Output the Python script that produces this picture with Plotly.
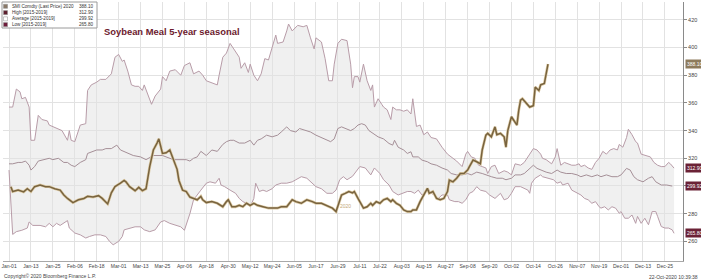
import pandas as pd
import plotly.graph_objects as go

# ---------------- data (day offset from 2020-01-01, value) ----------------
high_day = [0, 2, 4, 6, 7, 9, 11, 12, 14, 16,
            18, 21, 22, 26, 29, 32, 33, 34, 36, 39,
            42, 43, 45, 48, 50, 53, 56, 58, 60, 62,
            63, 65, 67, 69, 71, 73, 74, 78, 80, 83,
            84, 86, 88, 91, 94, 96, 99, 101, 104, 106,
            108, 110, 114, 115, 117, 119, 121, 123, 125, 126,
            127, 129, 131, 132, 134, 136, 138, 140, 142, 144,
            146, 147, 150, 152, 153, 155, 157, 158, 161, 163,
            165, 167, 168, 171, 173, 175, 177, 178, 180, 182,
            185, 187, 188, 189, 191, 192, 194, 196, 198, 199,
            200, 202, 204, 205, 207, 209, 210, 212, 214, 216,
            218, 220, 221, 223, 225, 227, 229, 231, 234, 237,
            240, 242, 245, 248, 250, 251, 253, 255, 257, 259,
            261, 262, 264, 266, 268, 271, 273, 275, 277, 280,
            282, 285, 287, 289, 291, 292, 294, 297, 299, 300,
            301, 302, 304, 306, 308, 310, 312, 313, 315, 317,
            319, 321, 323, 325, 327, 329, 331, 333, 334, 336,
            338, 339, 341, 343, 344, 346, 348, 351, 353, 355,
            357, 359, 361, 362, 364]
high_val = [357, 357, 370, 368, 363, 364, 357, 333, 333, 351,
            348, 347, 344, 342, 340, 333, 340, 333, 332, 344,
            345, 369, 373, 375, 377, 377, 381, 393, 395, 390,
            391, 383, 373, 372, 372, 369, 373, 359, 365, 370,
            379, 376, 383, 384, 380, 387, 389, 381, 383, 380,
            376, 375, 373, 380, 393, 396, 403, 399, 395, 393,
            385, 389, 382, 388, 380, 376, 381, 392, 391, 400,
            409, 403, 404, 412, 417, 412, 415, 416, 415, 416,
            407, 399, 407, 404, 392, 376, 376, 388, 403, 406,
            405, 388, 371, 379, 379, 375, 388, 376, 369, 373,
            357, 363, 359, 357, 355, 348, 357, 355, 355, 354,
            355, 352, 363, 343, 344, 337, 339, 335, 334, 328,
            323, 321, 318, 314, 323, 325, 321, 320, 315, 314,
            313, 309, 314, 315, 309, 311, 310, 308, 316, 315,
            317, 323, 327, 326, 323, 320, 319, 316, 321, 327,
            321, 315, 317, 316, 315, 315, 316, 314, 315, 313,
            312, 317, 320, 325, 323, 326, 327, 326, 330, 328,
            335, 341, 337, 332, 331, 323, 322, 321, 317, 315,
            314, 314, 317, 316, 312.9]

avg_day = [0, 2, 5, 7, 9, 11, 12, 14, 16, 19,
           22, 24, 27, 30, 32, 34, 36, 39, 42, 43,
           45, 48, 51, 53, 56, 59, 61, 68, 72, 75,
           79, 84, 90, 97, 99, 101, 103, 105, 108, 111,
           114, 117, 119, 121, 123, 126, 129, 132, 134, 136,
           138, 141, 144, 147, 149, 152, 154, 157, 159, 162,
           165, 168, 170, 173, 176, 178, 180, 182, 184, 187,
           189, 191, 193, 195, 197, 199, 202, 205, 208, 210,
           211, 213, 216, 218, 220, 221, 224, 226, 229, 231,
           234, 237, 240, 242, 245, 248, 251, 253, 256, 259,
           261, 264, 267, 270, 272, 275, 277, 280, 282, 285,
           287, 289, 291, 294, 297, 300, 302, 305, 308, 311,
           313, 316, 319, 322, 324, 327, 330, 333, 335, 338,
           340, 342, 344, 347, 350, 352, 354, 357, 360, 363]
avg_val = [316, 316, 317, 317, 318, 315, 311.5, 314, 318, 319,
           320, 319, 320, 317, 317, 315, 314, 317, 319, 323.5,
           324.7, 326, 326, 327, 327, 329.5, 326, 322, 321, 319,
           322, 322, 319, 319, 318, 320, 321, 325, 322, 326,
           325, 330, 332, 333, 333, 331, 331, 333, 329.5, 333,
           334, 336.7, 335.5, 336.7, 339, 342.7, 340, 339, 341.5, 340,
           339, 336.7, 335.5, 334, 332, 334, 341.5, 342.7, 341.5, 340,
           341.5, 344, 345, 344, 340, 338, 335.5, 334, 330.7, 329.5,
           333, 328, 326, 323.5, 324.7, 321, 321, 318.7, 317.5, 316,
           315, 313, 311.5, 309, 308, 308, 309, 308, 310, 309,
           308, 306.7, 305.6, 305.6, 304.5, 305.6, 308, 308, 309, 312.7,
           315, 312.7, 311.5, 310, 309, 311.5, 310, 309, 309, 308,
           306.7, 308, 306.7, 308, 306.7, 308, 306.7, 306.7, 308, 312.7,
           311.5, 306.7, 304.5, 303, 305.6, 306.7, 303, 300.7, 300.7, 299.92]

low_day = [0, 2, 4, 7, 10, 11, 13, 17, 20, 22,
           24, 26, 28, 30, 32, 33, 36, 39, 42, 44,
           47, 50, 53, 55, 57, 60, 62, 63, 66, 69,
           72, 74, 77, 80, 83, 85, 88, 91, 94, 96,
           97, 99, 101, 103, 105, 108, 110, 113, 115, 116,
           118, 121, 124, 126, 128, 130, 132, 134, 135, 137,
           139, 141, 144, 146, 149, 152, 155, 157, 160, 163,
           166, 168, 171, 174, 177, 179, 181, 183, 185, 188,
           192, 195, 198, 200, 203, 205, 208, 210, 213, 215,
           218, 220, 222, 224, 226, 228, 230, 231, 233, 235,
           237, 240, 241, 244, 246, 248, 250, 252, 254, 256,
           258, 261, 263, 266, 269, 271, 273, 275, 277, 280,
           282, 284, 285, 286, 288, 291, 292, 295, 298, 300,
           302, 303, 306, 308, 311, 313, 315, 317, 319, 321,
           323, 324, 326, 328, 330, 332, 334, 335, 337, 339,
           341, 343, 344, 346, 348, 350, 352, 354, 355, 357,
           359, 361, 363, 364]
low_val = [311.5, 265, 267, 268, 269.6, 274, 271.5, 271.5, 270.5, 273,
           270.5, 273, 271.5, 273, 275, 269.6, 266, 264.7, 262.4, 263.5,
           264.7, 264.7, 263.5, 260, 257.5, 260, 263.5, 268.3, 269.6, 270.5,
           270.5, 268.3, 267, 268.3, 274, 275, 273, 271.5, 270.5, 268,
           272, 280, 290, 294, 297, 302, 303, 302, 305.6, 300.7,
           299.5, 297, 294.7, 291, 288.7, 287.5, 285, 291, 302, 296,
           297, 296, 298, 300.7, 302, 302, 303, 304.5, 306.7, 305.6,
           302, 299.5, 298, 294.7, 294.7, 297, 304.5, 306.7, 304.5, 307,
           314, 313, 308, 313, 309, 304.5, 300.7, 296, 293.5, 294.7,
           296, 296, 294.7, 297, 293.5, 296, 297, 294.7, 293.5, 291,
           293.5, 293.5, 290, 288.7, 288.7, 287.5, 290, 294.7, 296, 299.5,
           297, 296, 293.5, 291, 294.7, 290, 291, 294.7, 299.5, 299.5,
           298.3, 297, 294.7, 302, 305.6, 308, 306.7, 305.6, 304.5, 302,
           303, 300.7, 302, 297, 294.7, 293.5, 291, 290, 287.5, 288.7,
           285, 284, 285, 282.7, 285, 284, 280.3, 281.5, 276.7, 276.7,
           279, 273, 278, 273, 276.7, 272, 281.5, 281.5, 278, 270.7,
           269.6, 269.6, 268.3, 265.8]

y2020_day = [1, 2, 5, 8, 10, 12, 14, 17, 20, 22,
             25, 28, 30, 32, 35, 38, 41, 43, 46, 49,
             51, 53, 54, 56, 58, 61, 63, 64, 66, 69,
             71, 73, 75, 77, 79, 81, 82, 84, 86, 88,
             90, 92, 93, 95, 97, 99, 101, 103, 105, 106,
             108, 111, 114, 117, 119, 120, 122, 124, 126, 128,
             130, 132, 134, 136, 139, 142, 145, 147, 149, 152,
             155, 157, 160, 163, 166, 168, 171, 174, 177, 179,
             181, 182, 184, 186, 188, 189, 191, 194, 196, 198,
             199, 201, 203, 205, 207, 209, 210, 212, 214, 216,
             218, 220, 221, 223, 225, 227, 229, 230, 232, 234,
             236, 238, 240, 241, 243, 245, 247, 249, 251, 252,
             254, 256, 258, 259, 261, 262, 264, 266, 267, 269,
             271, 272, 273, 275, 277, 278, 279, 280, 281, 283,
             285, 287, 288, 290, 291, 293, 294, 295]
y2020_val = [299.5, 296, 297, 295.7, 298, 296, 299.5, 300.7, 299.5, 299.5,
             298, 297, 293.5, 291, 288, 290, 291, 292.5, 292, 293,
             291, 288.7, 287, 295, 299.5, 302, 304, 303, 299.5, 296.6,
             299, 296.6, 298, 314, 326, 331, 334, 323.5, 324, 326,
             318.7, 312, 304, 297, 296, 292, 291, 290, 292.5, 290,
             288, 288.7, 287.5, 285, 288.7, 290, 285, 285, 286, 285,
             287.5, 286, 287.5, 286, 285, 284, 284, 284, 285, 285,
             290, 288.7, 287.5, 290, 288.7, 287.5, 287.5, 286, 284, 281.5,
             290, 293.5, 294.7, 296, 295, 296, 291, 284, 285, 287.5,
             286, 288.7, 287.5, 290, 291, 288.7, 290, 287.5, 286, 282.7,
             281.5, 281.5, 282.7, 282.7, 288.7, 293.5, 298.3, 294.7, 296, 291,
             290, 291, 296, 304.3, 303, 305.6, 309, 309, 311.5, 314,
             318.7, 317.5, 316, 326, 336.7, 338, 335.5, 342.7, 337, 338,
             335.5, 328, 340, 350, 346, 344, 354.7, 362, 363, 360,
             357, 358, 371.4, 369, 373, 374, 382, 388.1]

tick_dates = ["2020-01-01", "2020-01-13", "2020-01-25", "2020-02-06", "2020-02-18",
              "2020-03-01", "2020-03-13", "2020-03-25", "2020-04-06", "2020-04-18",
              "2020-04-30", "2020-05-12", "2020-05-24", "2020-06-05", "2020-06-17",
              "2020-06-29", "2020-07-11", "2020-07-22", "2020-08-03", "2020-08-15",
              "2020-08-27", "2020-09-08", "2020-09-20", "2020-10-02", "2020-10-14",
              "2020-10-26", "2020-11-07", "2020-11-19", "2020-12-01", "2020-12-13",
              "2020-12-25"]
tick_labels = ["Jan-01", "Jan-13", "Jan-25", "Feb-06", "Feb-18", "Mar-01", "Mar-13",
               "Mar-25", "Apr-06", "Apr-18", "Apr-30", "May-12", "May-24", "Jun-05",
               "Jun-17", "Jun-29", "Jul-11", "Jul-22", "Aug-03", "Aug-15", "Aug-27",
               "Sep-08", "Sep-20", "Oct-02", "Oct-14", "Oct-26", "Nov-07", "Nov-19",
               "Dec-01", "Dec-13", "Dec-25"]
y_ticks = [260, 280, 300, 320, 340, 360, 380, 400, 420]
# the 300 label sits under the 299.92 value tag in the original
y_tick_text = ["260", "280", "", "320", "340", "360", "380", "400", "420"]

legend_names = ["SMI Comdty (Last Price) 2020", "High [2015-2019]",
                "Average [2015-2019]", "Low [2015-2019]"]
last_values = [388.10, 312.90, 299.92, 265.80]

# ---------------- helpers ----------------
BASE = pd.Timestamp("2020-01-01")


def to_dates(days):
    return [BASE + pd.Timedelta(days=d) for d in days]


W, H = 701, 280
ML, MR, MT, MB = 3, 18, 2, 19
PW, PH = W - ML - MR, H - MT - MB


def px(x):
    return (x - ML) / PW


def py(y):
    return 1 - (y - MT) / PH


FONT = "Liberation Sans"
BAND_LINE = "#b89ca8"
AVG_LINE = "#a58f97"
BROWN = "#78633f"
BROWN_HALO = "#dccaa4"
MAROON = "#6b2236"
TAG_2020 = "#8d7b5c"

fig = go.Figure()
fig.add_trace(go.Scatter(x=to_dates(low_day), y=low_val, mode="lines",
                         line=dict(color=BAND_LINE, width=1), hoverinfo="skip"))
fig.add_trace(go.Scatter(x=to_dates(high_day), y=high_val, mode="lines",
                         line=dict(color=BAND_LINE, width=1), fill="tonexty",
                         fillcolor="rgba(226,226,226,0.5)", hoverinfo="skip"))
fig.add_trace(go.Scatter(x=to_dates(avg_day), y=avg_val, mode="lines",
                         line=dict(color=AVG_LINE, width=1), hoverinfo="skip"))
fig.add_trace(go.Scatter(x=to_dates(y2020_day), y=y2020_val, mode="lines",
                         line=dict(color=BROWN_HALO, width=2.8), hoverinfo="skip"))
fig.add_trace(go.Scatter(x=to_dates(y2020_day), y=y2020_val, mode="lines",
                         line=dict(color=BROWN, width=1.5), hoverinfo="skip"))

x_range = [BASE + pd.Timedelta(days=-3.3), BASE + pd.Timedelta(days=368.9)]

fig.update_layout(
    width=W, height=H, margin=dict(l=ML, r=MR, t=MT, b=MB),
    paper_bgcolor="white", plot_bgcolor="white", showlegend=False,
    font=dict(family=FONT, size=5, color="#444"),
    xaxis=dict(type="date", range=x_range, tickvals=tick_dates, ticktext=tick_labels,
               showgrid=True, gridcolor="#e2e2e2", gridwidth=1, showline=True,
               linecolor="#a8a8a8", linewidth=1, ticks="", zeroline=False,
               tickfont=dict(size=5, color="#444", family=FONT)),
    yaxis=dict(side="right", range=[245.8, 432.9], tickvals=y_ticks, ticktext=y_tick_text,
               showgrid=True, gridcolor="#e2e2e2", gridwidth=1, showline=True,
               linecolor="#8a8a8a", linewidth=1, ticks="outside", ticklen=3,
               tickcolor="#8a8a8a", zeroline=False,
               tickfont=dict(size=5.5, color="#444", family=FONT)),
)

ann = []
shapes = []

# title
ann.append(dict(text="<b>Soybean Meal 5-year seasonal</b>", xref="paper", yref="paper",
                x=px(102), y=py(31), xanchor="left", yanchor="middle", showarrow=False,
                font=dict(family=FONT, size=9.4, color="#6c1a2e")))

# legend box
shapes.append(dict(type="rect", xref="paper", yref="paper", x0=px(2), x1=px(97),
                   y0=py(28), y1=py(2), line=dict(color="#9a9a9a", width=1),
                   fillcolor="white", layer="above"))
sw_colors = ["#8a7968", "#5d1f2e", "white", "#6e1a3a"]
row_y = [6.3, 12.6, 18.8, 24.6]
for i, name in enumerate(legend_names):
    yy = row_y[i]
    shapes.append(dict(type="rect", xref="paper", yref="paper", x0=px(3.5), x1=px(7.5),
                       y0=py(yy + 2), y1=py(yy - 2), fillcolor=sw_colors[i],
                       line=dict(color="#8a8a8a", width=0.5), layer="above"))
    ann.append(dict(text=name, xref="paper", yref="paper", x=px(9.5), y=py(yy),
                    xanchor="left", yanchor="middle", showarrow=False,
                    font=dict(family=FONT, size=4.6, color="#333")))
    ann.append(dict(text=f"{last_values[i]:.2f}", xref="paper", yref="paper", x=px(95.5),
                    y=py(yy), xanchor="right", yanchor="middle", showarrow=False,
                    font=dict(family=FONT, size=4.6, color="#333")))

# right-hand value tags
tag_colors = [TAG_2020, MAROON, MAROON, MAROON]
for i, v in enumerate(last_values):
    ann.append(dict(text=f"{v:.2f}", xref="paper", yref="y", x=1, y=v, xshift=2,
                    xanchor="left", yanchor="middle", showarrow=False,
                    bgcolor=tag_colors[i], borderpad=1,
                    font=dict(family=FONT, size=5, color="white")))

# series label
ann.append(dict(text="2020", xref="paper", yref="paper", x=px(345), y=py(205.5),
                xanchor="center", yanchor="middle", showarrow=False,
                font=dict(family=FONT, size=5, color="#c3a878")))

# footer
ann.append(dict(text="Copyright\u00a9 2020 Bloomberg Finance L.P.", xref="paper", yref="paper",
                x=px(2), y=py(275.5), xanchor="left", yanchor="middle", showarrow=False,
                font=dict(family=FONT, size=5, color="#444")))
ann.append(dict(text="22-Oct-2020 10:39:38", xref="paper", yref="paper",
                x=px(700), y=py(276.5), xanchor="right", yanchor="middle", showarrow=False,
                font=dict(family=FONT, size=5, color="#444")))

fig.update_layout(annotations=ann, shapes=shapes)
fig.write_html("out.html")
